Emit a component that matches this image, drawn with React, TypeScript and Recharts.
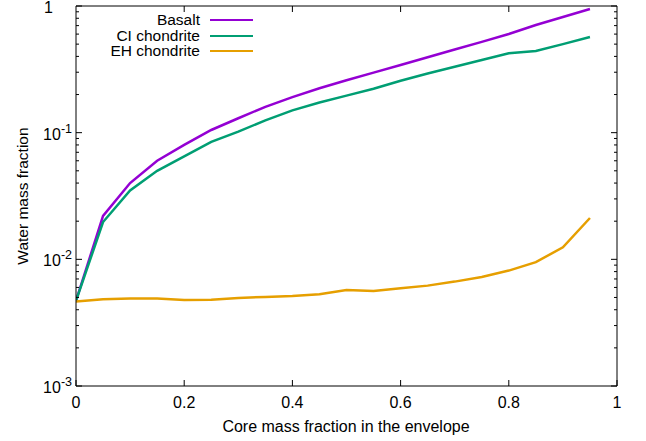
import { LineChart, Line, XAxis, YAxis, Legend } from "recharts";

const FONT = "'Liberation Sans', Arial, sans-serif";

// core mass fraction in the envelope
const coreFraction = [0, 0.05, 0.1, 0.15, 0.2, 0.25, 0.3, 0.35, 0.4, 0.45, 0.5, 0.55, 0.6, 0.65, 0.7, 0.75, 0.8, 0.85, 0.9, 0.95];

// water mass fraction per composition
const basalt = [0.0047, 0.022, 0.040, 0.060, 0.080, 0.105, 0.130, 0.160, 0.191, 0.224, 0.259, 0.298, 0.342, 0.394, 0.453, 0.521, 0.601, 0.708, 0.819, 0.947];
const ciChondrite = [0.0047, 0.0197, 0.035, 0.050, 0.065, 0.0845, 0.102, 0.125, 0.150, 0.173, 0.196, 0.222, 0.257, 0.293, 0.331, 0.375, 0.423, 0.441, 0.500, 0.569];
const ehChondrite = [0.00464, 0.00484, 0.0049, 0.0049, 0.00478, 0.0048, 0.00496, 0.00505, 0.00514, 0.0053, 0.00573, 0.00562, 0.00591, 0.0062, 0.00667, 0.00726, 0.00815, 0.0095, 0.01245, 0.0212];

const xTicks = [0, 0.2, 0.4, 0.6, 0.8, 1];
const yMajor = [0.001, 0.01, 0.1, 1];
const yTicks = [
  0.001, 0.002, 0.003, 0.004, 0.005, 0.006, 0.007, 0.008, 0.009,
  0.01, 0.02, 0.03, 0.04, 0.05, 0.06, 0.07, 0.08, 0.09,
  0.1, 0.2, 0.3, 0.4, 0.5, 0.6, 0.7, 0.8, 0.9, 1,
];

const data = coreFraction.map((x, i) => ({
  x,
  basalt: basalt[i],
  ci: ciChondrite[i],
  eh: ehChondrite[i],
}));

const isMajor = (v: number) => yMajor.some((m) => Math.abs(m - v) < 1e-9);

const LeftTick = ({ x, y, payload }: any) => {
  const v = payload.value;
  const major = isMajor(v);
  const exp = Math.round(Math.log10(v));
  return (
    <g>
      <line x1={x} x2={x + (major ? 6 : 3)} y1={y} y2={y} stroke="#000" />
      {major &&
        (exp === 0 ? (
          <text x={x - 23} y={y + 7} textAnchor="end" fontFamily={FONT} fontSize={16} fill="#000">1</text>
        ) : (
          <text x={x - 4} y={y + 7} textAnchor="end" fontFamily={FONT} fontSize={16} fill="#000">
            10<tspan dy={-7} fontSize={12.5}>{exp}</tspan>
          </text>
        ))}
    </g>
  );
};

const RightTick = ({ x, y, payload }: any) => (
  <line x1={x} x2={x - (isMajor(payload.value) ? 6 : 3)} y1={y} y2={y} stroke="#000" />
);

const BottomTick = ({ x, y, payload }: any) => (
  <g>
    <line x1={x} x2={x} y1={y} y2={y - 6} stroke="#000" />
    <text x={x} y={y + 22} textAnchor="middle" fontFamily={FONT} fontSize={16} fill="#000">
      {String(payload.value)}
    </text>
  </g>
);

const TopTick = ({ x, y, payload }: any) =>
  payload.value > 0 && payload.value < 1 ? <line x1={x} x2={x} y1={y} y2={y + 6} stroke="#000" /> : <g />;

const LegendBox = ({ payload }: any) => (
  <div style={{ fontFamily: FONT, fontSize: 15.5, color: "#000" }}>
    {(payload || []).map((p: any) => (
      <div key={p.value} style={{ display: "flex", alignItems: "center", height: 15.7 }}>
        <span style={{ width: 130, textAlign: "right", whiteSpace: "nowrap" }}>{p.value}</span>
        <span style={{ width: 43, height: 0, borderTop: `2.5px solid ${p.color}`, marginLeft: 10 }} />
      </div>
    ))}
  </div>
);

export default function App() {
  return (
    <div style={{ position: "absolute", left: 0, top: 0, background: "#fff" }}>
      <LineChart width={646} height={441} data={data} margin={{ top: 5, right: 28, left: 16, bottom: 0 }}>
        <XAxis
          dataKey="x"
          type="number"
          domain={[0, 1]}
          ticks={xTicks}
          interval={0}
          allowDataOverflow
          height={55}
          tickSize={0}
          tickMargin={0}
          tickLine={false}
          axisLine={{ stroke: "#000" }}
          tick={<BottomTick />}
          label={{
            content: () => (
              <text x={346} y={432} textAnchor="middle" fontFamily={FONT} fontSize={16} fill="#000">
                Core mass fraction in the envelope
              </text>
            ),
          }}
        />
        <XAxis
          xAxisId="top"
          dataKey="x"
          orientation="top"
          type="number"
          domain={[0, 1]}
          ticks={xTicks}
          interval={0}
          allowDataOverflow
          height={1}
          tickSize={0}
          tickMargin={0}
          tickLine={false}
          axisLine={{ stroke: "#000" }}
          tick={<TopTick />}
        />
        <YAxis
          type="number"
          scale="log"
          domain={[0.001, 1]}
          ticks={yTicks}
          interval={0}
          allowDataOverflow
          width={60}
          tickSize={0}
          tickMargin={0}
          tickLine={false}
          axisLine={{ stroke: "#000" }}
          tick={<LeftTick />}
          label={{
            content: ({ viewBox }: any) => {
              const cy = viewBox.y + viewBox.height / 2;
              return (
                <text
                  x={22}
                  y={cy}
                  transform={`rotate(-90, 22, ${cy})`}
                  textAnchor="middle"
                  dominantBaseline="central"
                  fontFamily={FONT}
                  fontSize={15.5}
                  fill="#000"
                >
                  Water mass fraction
                </text>
              );
            },
          }}
        />
        <YAxis
          yAxisId="right"
          orientation="right"
          type="number"
          scale="log"
          domain={[0.001, 1]}
          ticks={yTicks}
          interval={0}
          allowDataOverflow
          width={1}
          tickSize={0}
          tickMargin={0}
          tickLine={false}
          axisLine={{ stroke: "#000" }}
          tick={<RightTick />}
        />
        <Legend
          layout="vertical"
          align="center"
          verticalAlign="middle"
          content={<LegendBox />}
          wrapperStyle={{ position: "absolute", left: 70, top: 12, width: "auto" }}
        />
        <Line dataKey="basalt" name="Basalt" stroke="#9400d3" strokeWidth={2.5} dot={false} isAnimationActive={false} />
        <Line dataKey="ci" name="CI chondrite" stroke="#009e73" strokeWidth={2.5} dot={false} isAnimationActive={false} />
        <Line dataKey="eh" name="EH chondrite" stroke="#e69f00" strokeWidth={2.5} dot={false} isAnimationActive={false} />
      </LineChart>
    </div>
  );
}
